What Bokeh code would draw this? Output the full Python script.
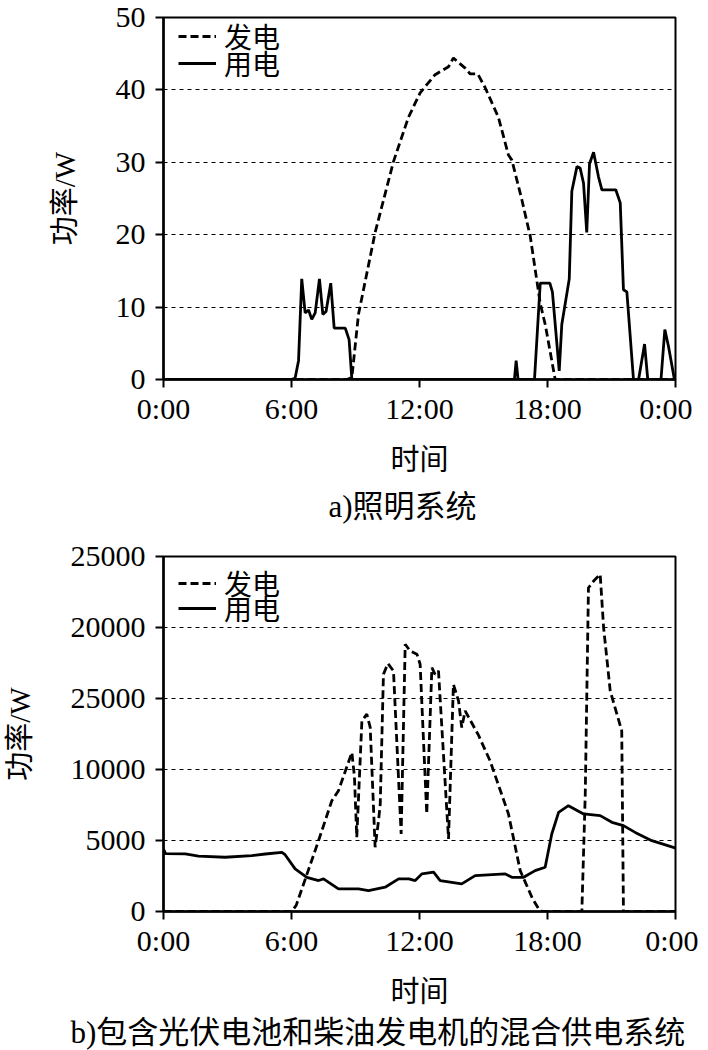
from bokeh.plotting import figure
from bokeh.models import Range1d, FixedTicker, Legend, LegendItem, Title
from bokeh.layouts import column
from bokeh.embed import file_html
from bokeh.resources import INLINE

SERIF_CJK = "Liberation Serif, Noto Sans CJK SC"
CJK = "Noto Sans CJK SC"
SERIF = "Liberation Serif"

# ---------------- data ----------------
hour_ticks = [0, 6, 12, 18, 24]
hour_labels = ["0:00", "6:00", "12:00", "18:00", "0:00"]

# a) lighting system
a_ticks = [0, 10, 20, 30, 40, 50]
a_tick_labels = ["0", "10", "20", "30", "40", "50"]

a_gen_t = [0, 8.6, 8.83, 9.14, 9.92, 10.78, 11.48, 12.03, 12.73, 13.36, 13.59,
           14.14, 14.38, 14.73, 15.08, 15.70, 16.17, 16.33, 16.80, 17.19, 17.66,
           17.9, 18.36, 24]
a_gen_w = [0, 0, 0.3, 9.0, 20.3, 30.1, 36.2, 39.6, 42.1, 43.2, 44.4,
           43.0, 42.2, 42.2, 40.3, 36.2, 31.0, 30.3, 24.8, 19.8, 10.5,
           7.5, 0, 0]

a_use_t = [0, 6.0, 6.17, 6.33, 6.48, 6.64, 6.8, 6.95, 7.11, 7.31, 7.47, 7.62,
           7.84, 8.0, 8.52, 8.7, 8.83, 16.45, 16.53, 16.62, 17.39, 17.66, 18.11,
           18.23, 18.55, 18.67, 19.02, 19.14, 19.38, 19.53, 19.69, 19.84, 19.97,
           20.16, 20.39, 20.55, 21.2, 21.41, 21.56, 21.72, 22.03, 22.27, 22.55,
           22.7, 23.32, 23.5, 23.67, 23.95, 24]
a_use_w = [0, 0, 0.2, 2.6, 13.9, 9.2, 9.6, 8.3, 9.2, 13.9, 9.0, 9.4,
           13.3, 7.1, 7.1, 5.5, 0, 0, 2.6, 0, 0, 13.3, 13.3,
           12.1, 1.2, 7.6, 13.9, 26.0, 29.4, 29.2, 27.1, 20.3, 29.8,
           31.4, 28.0, 26.2, 26.2, 24.4, 12.4, 12.1, 0, 0, 4.9,
           0, 0, 6.9, 4.6, 0, 0]

# b) hybrid PV + diesel system
b_ticks = [0, 5000, 10000, 15000, 20000, 25000]
b_tick_labels = ["0", "5000", "10000", "25000", "20000", "25000"]

b_gen_t = [0, 6.0, 6.22, 7.27, 7.89, 8.2, 8.83, 8.95, 9.06, 9.3, 9.53, 9.69,
           9.92, 10.08, 10.16, 10.31, 10.52, 10.78, 11.14, 11.33, 11.56, 11.88,
           12.03, 12.34, 12.58, 12.73, 12.89, 13.36, 13.59, 13.83, 13.98, 14.14,
           14.77, 15.31, 16.17, 16.72, 17.3, 17.6, 17.75, 19.61, 19.77, 19.92,
           20.16, 20.47, 20.63, 20.94, 21.48, 21.56, 24]
b_gen_w = [0, 0, 430, 5000, 7800, 8500, 11200, 9500, 5220, 13430, 13900, 12960,
           4520, 6400, 7570, 16710, 17460, 16940, 5460, 18820, 18350, 18120,
           17410, 6870, 17170, 16700, 16940, 5110, 15990, 14830, 12960, 14130,
           12400, 10600, 6870, 2880, 900, 150, 0, 0, 8270, 22800,
           23270, 23740, 19990, 15540, 12720, 0, 0]

b_use_t = [0, 0.1, 1.02, 1.64, 2.89, 4.14, 4.77, 5.55, 5.7, 6.17, 6.72, 7.27,
           7.5, 8.2, 9.14, 9.61, 10.39, 11.02, 11.5, 11.8, 12.11, 12.66, 12.97,
           13.98, 14.61, 16.02, 16.33, 16.88, 17.42, 17.89, 18.2, 18.52, 18.98,
           19.69, 20.47, 21.02, 21.56, 22.11, 22.89, 23.9, 24]
b_use_w = [4400, 4080, 4056, 3900, 3820, 3937, 4050, 4170, 4000, 3000, 2410, 2180,
           2300, 1595, 1595, 1476, 1710, 2300, 2300, 2180, 2650, 2765, 2180,
           1945, 2530, 2650, 2410, 2410, 2880, 3115, 5460, 6980, 7450,
           6870, 6750, 6280, 6050, 5570, 4990, 4520, 4450]

legend_labels = ["发电", "用电"]
y_title = "功率/W"
x_title = "时间"
caption_a = "a)照明系统"
caption_b = "b)包含光伏电池和柴油发电机的混合供电系统"


def add_legend_row(p, label, renderer, vy):
    lg = Legend(items=[LegendItem(label=label, renderers=[renderer])],
                location=(15, vy))
    lg.margin = 0
    lg.padding = 0
    lg.spacing = 0
    lg.border_line_alpha = 0
    lg.background_fill_alpha = 0
    lg.glyph_width = 38
    lg.glyph_height = 42
    lg.label_height = 42
    lg.label_standoff = 8
    lg.label_text_font = CJK
    lg.label_text_font_size = "28px"
    lg.label_text_color = "black"
    p.add_layout(lg)


def make_panel(ymax, yticks, ylabels, frame_h, b_top, b_bottom,
               gen_t, gen_w, use_t, use_w, legend_vys,
               caption, cap_offset, cap_standoff):
    p = figure(frame_width=512, frame_height=frame_h,
               min_border_left=157, min_border_right=23,
               min_border_top=b_top, min_border_bottom=b_bottom,
               x_range=Range1d(0, 24), y_range=Range1d(0, ymax),
               output_backend="svg", toolbar_location=None)
    p.background_fill_color = "white"
    p.border_fill_color = "white"
    p.outline_line_color = "black"
    p.outline_line_width = 2
    p.outline_line_alpha = 1

    xt = FixedTicker(ticks=hour_ticks)
    yt = FixedTicker(ticks=yticks)
    p.xaxis.ticker = xt
    p.yaxis.ticker = yt
    p.ygrid.ticker = yt
    p.xaxis.major_label_overrides = {t: l for t, l in zip(hour_ticks, hour_labels)}
    p.yaxis.major_label_overrides = {t: l for t, l in zip(yticks, ylabels)}

    p.xgrid.visible = False
    p.ygrid.grid_line_color = "black"
    p.ygrid.grid_line_width = 1
    p.ygrid.grid_line_dash = "4 4"

    for ax in (p.xaxis[0], p.yaxis[0]):
        ax.axis_line_width = 2.5
        ax.axis_line_color = "black"
        ax.major_tick_line_width = 2
        ax.major_tick_line_color = "black"
        ax.major_tick_out = 8
        ax.major_tick_in = 0
        ax.minor_tick_line_color = None
        ax.major_label_text_font = SERIF
        ax.major_label_text_font_size = "30px"
        ax.major_label_text_color = "black"
        ax.axis_label_text_font_style = "normal"
        ax.axis_label_text_color = "black"
    p.xaxis.major_label_standoff = 4
    p.yaxis.major_label_standoff = 10

    p.xaxis.axis_label = x_title
    p.xaxis.axis_label_text_font = SERIF_CJK
    p.xaxis.axis_label_text_font_size = "29px"
    p.xaxis.axis_label_standoff = 16

    p.yaxis.axis_label = y_title
    p.yaxis.axis_label_text_font = SERIF_CJK
    p.yaxis.axis_label_text_font_size = "29px"
    p.yaxis.axis_label_standoff = 32

    r_gen = p.line(gen_t, gen_w, line_color="black", line_width=2.8, line_dash="8 4")
    r_use = p.line(use_t, use_w, line_color="black", line_width=2.8)

    add_legend_row(p, legend_labels[0], r_gen, legend_vys[0])
    add_legend_row(p, legend_labels[1], r_use, legend_vys[1])

    cap = Title(text=caption, align="left", offset=cap_offset,
                standoff=cap_standoff, text_font=SERIF_CJK,
                text_font_size="31px", text_font_style="normal",
                text_color="black")
    p.add_layout(cap, "below")
    return p


pa = make_panel(50, a_ticks, a_tick_labels, 362, 17, 156,
                a_gen_t, a_gen_w, a_use_t, a_use_w, (322, 295),
                caption_a, 165, 17)
pb = make_panel(25000, b_ticks, b_tick_labels, 355, 21, 131,
                b_gen_t, b_gen_w, b_use_t, b_use_w, (307, 282),
                caption_b, -93, 4)

layout = column(pa, pb, spacing=0)
open("out.html", "w").write(file_html(layout, INLINE))
